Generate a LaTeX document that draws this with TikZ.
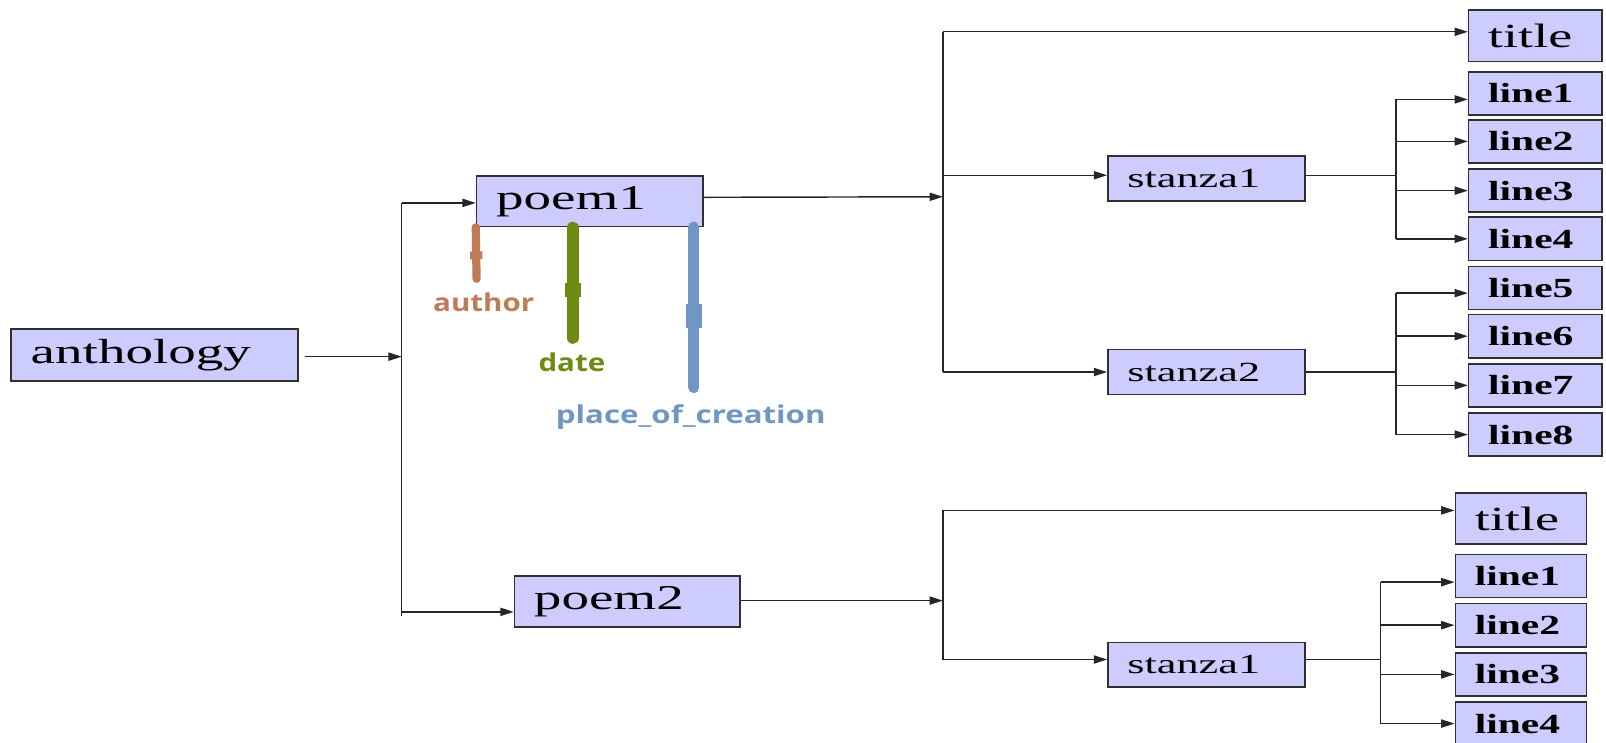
\documentclass[tikz,border=0pt]{standalone}
\usepackage{fontspec}
\usepackage{graphicx}
\usetikzlibrary{arrows.meta,calc}
\newfontfamily\nodefont{Liberation Serif}
\newfontfamily\labfont{Open Sans}
\definecolor{boxfill}{HTML}{CCCCFF}
\definecolor{boxline}{HTML}{303030}
\definecolor{authc}{HTML}{BF7B58}
\definecolor{datec}{HTML}{6B8B12}
\definecolor{placec}{HTML}{7096C3}
\newcommand\sx[2]{\scalebox{#1}[1]{#2}}
\newcommand\bx[7]{%
  \pgfmathsetmacro\bxw{#4-#2}\pgfmathsetmacro\bxh{#5-#3}\pgfmathsetmacro\bxtw{#4-#2-38}%
  \node[box,#6,minimum width=\bxw pt,minimum height=\bxh pt,text width=\bxtw pt] (#1) at ({(#2+#4)/2},{(#3+#5)/2}) {#7};}
\tikzset{
  box/.style={draw=boxline, fill=boxfill, line width=1.6pt, inner xsep=19pt, inner ysep=0pt, align=left},
  big/.style={font=\nodefont\fontsize{34pt}{34pt}\selectfont},
  stz/.style={font=\nodefont\fontsize{27pt}{27pt}\selectfont},
  ttl/.style={font=\nodefont\fontsize{33pt}{33pt}\selectfont},
  lbx/.style={font=\nodefont\bfseries\fontsize{27pt}{27pt}\selectfont},
  ln/.style={line width=1.4pt, draw=black!85},
  arr/.style={ln, -{Triangle[length=13pt,width=8pt]}},
  lab/.style={font=\labfont\bfseries\fontsize{24pt}{24pt}\selectfont, anchor=base, inner sep=0pt},
  stub/.style={line cap=round}
}
\begin{document}
\begin{tikzpicture}[x=1pt,y=-1pt]
\path[use as bounding box] (0,0) rectangle (1567,724);
% boxes
\bx{anth}{11}{321}{291}{372}{big}{\sx{1.58}{anthology}}
\bx{poemA}{465}{172}{686}{221}{big}{\sx{1.58}{poem1}}
\bx{poemB}{502}{562}{722}{612}{big}{\sx{1.58}{poem2}}
\bx{titleA}{1433}{10}{1563}{60}{ttl}{\sx{1.6}{title}}
\bx{stA1}{1081}{152}{1273}{196}{stz}{\sx{1.6}{stanza1}}
\bx{stA2}{1081}{341}{1273}{385}{stz}{\sx{1.6}{stanza2}}
\bx{lA1}{1433}{70}{1563}{112}{lbx}{\sx{1.5}{line1}}
\bx{lA2}{1433}{117}{1563}{159}{lbx}{\sx{1.5}{line2}}
\bx{lA3}{1433}{165}{1563}{207}{lbx}{\sx{1.5}{line3}}
\bx{lA4}{1433}{212}{1563}{254}{lbx}{\sx{1.5}{line4}}
\bx{lA5}{1433}{260}{1563}{302}{lbx}{\sx{1.5}{line5}}
\bx{lA6}{1433}{307}{1563}{349}{lbx}{\sx{1.5}{line6}}
\bx{lA7}{1433}{355}{1563}{397}{lbx}{\sx{1.5}{line7}}
\bx{lA8}{1433}{403}{1563}{445}{lbx}{\sx{1.5}{line8}}
\bx{titleB}{1420}{481}{1548}{531}{ttl}{\sx{1.6}{title}}
\bx{stB1}{1081}{627}{1273}{670}{stz}{\sx{1.6}{stanza1}}
\bx{lB1}{1420}{541}{1548}{583}{lbx}{\sx{1.5}{line1}}
\bx{lB2}{1420}{589}{1548}{631}{lbx}{\sx{1.5}{line2}}
\bx{lB3}{1420}{637}{1548}{679}{lbx}{\sx{1.5}{line3}}
\bx{lB4}{1420}{685}{1548}{727}{lbx}{\sx{1.5}{line4}}
% left trunk
\coordinate (tr0) at (392,348);
\coordinate (trTop) at (392,198);
\coordinate (trBot) at (392,597);
\coordinate (trEnd) at (392,601);
\draw[arr] ([xshift=6pt]anth.east |- tr0) -- (tr0);
\draw[ln] (trTop) -- (trEnd);
\draw[arr] (trTop) -- (trTop -| poemA.west);
\draw[arr] (trBot) -- (trBot -| poemB.west);
% poem1 trunk
\coordinate (jA) at (920,192);
\draw[arr] ([yshift=4pt]poemA.east) -- (jA);
\draw[ln] ([yshift=4pt]jA |- titleA.west) -- (jA |- stA2.west);
\draw[arr] ([yshift=4pt]jA |- titleA.west) -- ([yshift=4pt]titleA.west);
\draw[arr] ([yshift=3pt]jA |- stA1.west) -- ([yshift=3pt]stA1.west);
\draw[arr] (jA |- stA2.west) -- (stA2.west);
% stanza1 lines
\coordinate (kA) at (1362,0);
\draw[ln] ([yshift=3pt]stA1.east) -- ([yshift=3pt]kA |- stA1.east);
\draw[ln] ([yshift=-6pt]kA |- lA1.west) -- (kA |- lA4.west);
\draw[arr] ([yshift=-6pt]kA |- lA1.west) -- ([yshift=-6pt]lA1.west);
\draw[arr] (kA |- lA2.west) -- (lA2.west);
\draw[arr] (kA |- lA3.west) -- (lA3.west);
\draw[arr] (kA |- lA4.west) -- (lA4.west);
% stanza2 lines
\draw[ln] (stA2.east) -- (kA |- stA2.east);
\draw[ln] ([yshift=-5pt]kA |- lA5.west) -- (kA |- lA8.west);
\draw[arr] ([yshift=-5pt]kA |- lA5.west) -- ([yshift=-5pt]lA5.west);
\draw[arr] (kA |- lA6.west) -- (lA6.west);
\draw[arr] (kA |- lA7.west) -- (lA7.west);
\draw[arr] (kA |- lA8.west) -- (lA8.west);
% poem2 trunk
\coordinate (jB) at (920,586);
\draw[arr] (poemB.east |- jB) -- (jB);
\draw[ln] ([yshift=8pt]jB |- titleB.west) -- ([yshift=5pt]jB |- stB1.west);
\draw[arr] ([yshift=8pt]jB |- titleB.west) -- ([yshift=8pt]titleB.west);
\draw[arr] ([yshift=5pt]jB |- stB1.west) -- ([yshift=5pt]stB1.west);
% stanza1 of poem2 lines
\coordinate (kB) at (1347,0);
\draw[ln] ([yshift=5pt]stB1.east) -- ([yshift=5pt]kB |- stB1.east);
\draw[ln] ([yshift=-6pt]kB |- lB1.west) -- (kB |- lB4.west);
\draw[arr] ([yshift=-6pt]kB |- lB1.west) -- ([yshift=-6pt]lB1.west);
\draw[arr] (kB |- lB2.west) -- (lB2.west);
\draw[arr] (kB |- lB3.west) -- (lB3.west);
\draw[arr] (kB |- lB4.west) -- (lB4.west);
% attribute stubs
\coordinate (aE) at (465,272);
\coordinate (dE) at (559,330);
\coordinate (pE) at (677,378);
\draw[stub, authc, line width=8pt] (poemA.south west) -- (aE);
\draw[authc, line width=12pt] ($(poemA.south west)!0.47!(aE)$) -- ($(poemA.south west)!0.62!(aE)$);
\draw[stub, datec, line width=11pt] (poemA.south west -| dE) -- (dE);
\draw[datec, line width=15pt] ($(poemA.south west -| dE)!0.5!(dE)$) -- ($(poemA.south west -| dE)!0.63!(dE)$);
\draw[stub, placec, line width=11pt] (poemA.south west -| pE) -- (pE);
\draw[placec, line width=15pt] ($(poemA.south west -| pE)!0.48!(pE)$) -- ($(poemA.south west -| pE)!0.63!(pE)$);
\node[lab, text=authc] (authL) at (472,304) {\sx{1.2}{author}};
\node[lab, text=datec] (dateL) at (558,362) {\sx{1.2}{date}};
\node[lab, text=placec] (placeL) at (674,413) {\sx{1.27}{place\_of\_creation}};
\end{tikzpicture}
\end{document}
